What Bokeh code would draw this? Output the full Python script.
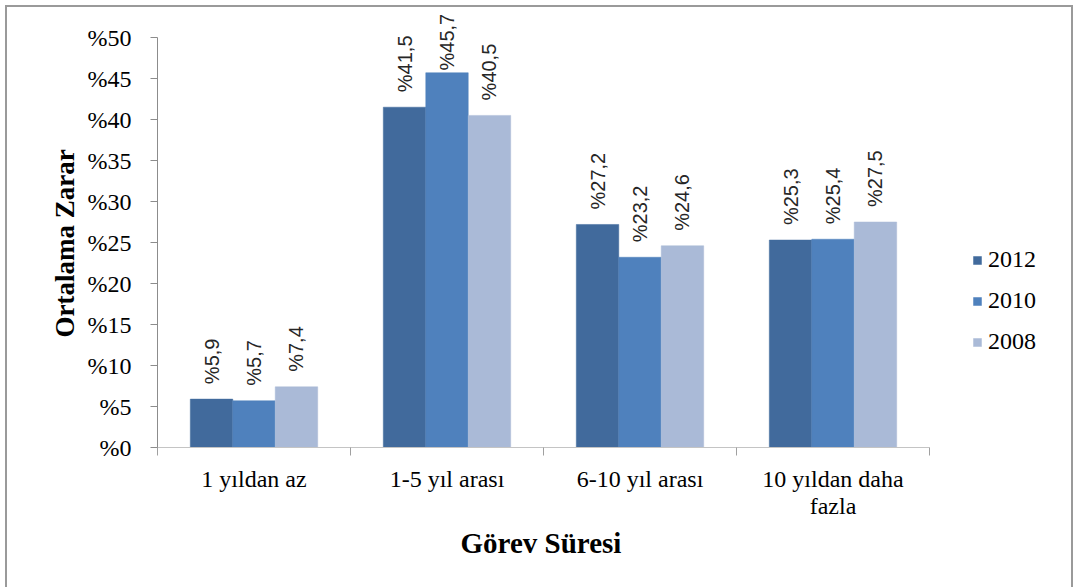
from math import pi

from bokeh.core.properties import value
from bokeh.embed import file_html
from bokeh.models import (ColumnDataSource, FixedTicker, LabelSet, Legend,
                          LegendItem, Range1d, Title)
from bokeh.plotting import figure
from bokeh.resources import INLINE

# Tenure groups and average loss (%) per survey year
categories = ["1 yıldan az", "1-5 yıl arası", "6-10 yıl arası", "10 yıldan daha\nfazla"]
years = ["2012", "2010", "2008"]
values_2012 = [5.9, 41.5, 27.2, 25.3]
values_2010 = [5.7, 45.7, 23.2, 25.4]
values_2008 = [7.4, 40.5, 24.6, 27.5]
y_ticks = [0, 5, 10, 15, 20, 25, 30, 35, 40, 45, 50]

series = [values_2012, values_2010, values_2008]
colors = ["#416A9C", "#4F81BD", "#AABAD7"]
offsets = [-0.22, 0.0, 0.22]
bar_w = 0.22

SERIF = "Liberation Serif"

# The frame runs to the top and right edges so that the value labels and the
# legend are not clipped; the axes are bounded to the data area.
n = len(categories)
px_per_x = 193.0
px_per_y = 8.2
frame_w = 1076 - 157
frame_h = 447

p = figure(width=1076, height=587, output_backend="svg", toolbar_location=None,
           x_range=Range1d(0, frame_w / px_per_x), y_range=Range1d(0, frame_h / px_per_y),
           min_border_left=157, min_border_right=0,
           min_border_top=0, min_border_bottom=140)
# transparent canvas; the chart-area border (left, top, right) is painted
# as the background of the plot element
p.background_fill_alpha = 0
p.border_fill_alpha = 0
p.outline_line_color = None
p.xgrid.visible = False
p.ygrid.visible = False
_edge = "linear-gradient(#9a9a9a, #9a9a9a)"
p.styles = {
    "background": (f"{_edge} 5px 5px / 2px 600px no-repeat, "
                   f"{_edge} 5px 5px / 1068px 2px no-repeat, "
                   f"{_edge} 1071px 5px / 2px 600px no-repeat, white"),
}

centers = [i + 0.5 for i in range(n)]

# value labels sit 15px above their bar, pulled down when they would run
# into the top edge of the chart
LABEL_LEN = 56
TOP_GAP = 14

renderers = []
for vals, col, off, yr in zip(series, colors, offsets, years):
    src = ColumnDataSource(dict(
        x=[c + off for c in centers],
        top=vals,
        label=["%" + f"{v:.1f}".replace(".", ",") for v in vals],
        lift=[min(15.0, frame_h - TOP_GAP - LABEL_LEN - v * px_per_y) for v in vals],
    ))
    r = p.vbar(x="x", top="top", width=bar_w, source=src,
               fill_color=col, line_color=col, line_width=0.5)
    renderers.append((yr, r))
    p.add_layout(LabelSet(x="x", y="top", text="label", source=src,
                          angle=pi / 2, y_offset="lift",
                          text_align="left", text_baseline="middle",
                          text_font=value("Liberation Sans"), text_font_size="20px",
                          text_color="#262626"))

# Y axis
yax = p.yaxis[0]
yax.bounds = (0, 50)
yax.ticker = FixedTicker(ticks=y_ticks, minor_ticks=[])
yax.major_label_overrides = {t: f"%{t}" for t in y_ticks}
yax.major_label_text_font = SERIF
yax.major_label_text_font_size = "24px"
yax.major_label_text_color = "black"
yax.major_tick_out = 7
yax.major_tick_in = 0
yax.major_label_standoff = 19
yax.axis_line_color = "#8c8c8c"
yax.major_tick_line_color = "#8c8c8c"

# Y axis title, centred on the 0-50 span
p.add_layout(Title(text="Ortalama Zarar", align="left", offset=110,
                   text_font=SERIF, text_font_style="bold", text_font_size="27px",
                   text_color="black"), "left")

# X axis: labels under the groups, tick marks on the group boundaries
xax = p.xaxis[0]
xax.bounds = (0, n)
xax.ticker = FixedTicker(ticks=centers, minor_ticks=list(range(n + 1)))
xax.major_label_overrides = {c: lab for c, lab in zip(centers, categories)}
xax.major_label_text_font = SERIF
xax.major_label_text_font_size = "24px"
xax.major_label_text_line_height = 1.05
xax.major_label_text_color = "black"
xax.major_tick_out = 0
xax.major_tick_in = 0
xax.minor_tick_out = 8
xax.minor_tick_in = 0
xax.major_label_standoff = 10
xax.axis_line_color = "#c4c4c4"
xax.minor_tick_line_color = "#a0a0a0"

# X axis title, centred under the four groups
p.add_layout(Title(text="Görev Süresi", align="left", offset=303,
                   text_font=SERIF, text_font_style="bold", text_font_size="29px",
                   text_color="black", vertical_align="top"), "below")

legend = Legend(items=[LegendItem(label=yr, renderers=[r]) for yr, r in renderers],
                location=(815, 92), orientation="vertical",
                glyph_width=10, glyph_height=10, label_height=20, spacing=14,
                padding=0, margin=0, label_standoff=6,
                label_text_font=SERIF, label_text_font_size="24px",
                label_text_color="black", border_line_color=None,
                background_fill_alpha=0)
p.add_layout(legend, "center")

open("out.html", "w").write(file_html(p, INLINE))
